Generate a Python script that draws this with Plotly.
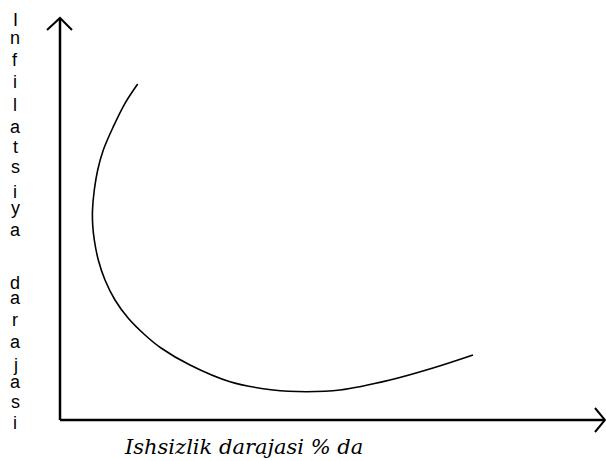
import plotly.graph_objects as go

# Curve values (arbitrary units, origin at axes crossing)
unemployment = [77.7, 65, 53.3, 43.3, 37.7, 34.3, 32.5, 32.7, 34.3, 38.3, 45, 55, 68.3,
                85, 101, 130, 170, 213, 246.7, 280, 330, 373, 413]
inflation = [336, 316.7, 293.3, 270, 250, 230, 210, 195, 180, 160, 140, 120, 101.7,
             85, 72, 55, 38.3, 30, 28.3, 30, 40, 52, 65]

y_title = "Infilatsiya darajasi"
x_title = "Ishsizlik darajasi % da"

X_MIN, X_MAX = -60, 546
Y_MIN, Y_MAX = -41, 420
X_AXIS_END = 545
Y_AXIS_END = 402

fig = go.Figure()
fig.add_trace(go.Scatter(x=unemployment, y=inflation, mode="lines",
                         line=dict(color="black", width=1.6, shape="spline", smoothing=1.0),
                         hoverinfo="skip", showlegend=False))

# axes with arrows
fig.add_shape(type="line", x0=0, y0=0, x1=X_AXIS_END, y1=0,
              line=dict(color="black", width=2.5))
fig.add_shape(type="line", x0=0, y0=0, x1=0, y1=Y_AXIS_END,
              line=dict(color="black", width=2.5))
fig.add_shape(type="path",
              path=f"M {X_AXIS_END-10},12 L {X_AXIS_END},0 L {X_AXIS_END-10},-12",
              line=dict(color="black", width=2))
fig.add_shape(type="path",
              path=f"M -13,{Y_AXIS_END-12} L 0,{Y_AXIS_END} L 12,{Y_AXIS_END-12}",
              line=dict(color="black", width=2))

# vertical stacked y title letters (baselines in px from top)
baselines = [25, 43, 65, 87, 110, 132, 152, 172, 197, 213, 235,
             288, 303, 325, 347, 370, 387, 407, 428]
letters = [c for c in y_title if c != " "]
fs = 18
for ch, b in zip(letters, baselines):
    fig.add_annotation(x=-45, y=Y_MAX - b + 0.3 * fs, text=ch, showarrow=False,
                       xanchor="center", yanchor="middle",
                       font=dict(family="Liberation Sans", size=fs, color="black"))

fig.add_annotation(x=183.5, y=-27, text=f"<i>{x_title}</i>", showarrow=False,
                   xanchor="center", yanchor="middle",
                   font=dict(family="DejaVu Serif", size=21, color="black"))

fig.update_layout(width=606, height=461, margin=dict(l=0, r=0, t=0, b=0),
                  paper_bgcolor="white", plot_bgcolor="white",
                  xaxis=dict(range=[X_MIN, X_MAX], visible=False, fixedrange=True),
                  yaxis=dict(range=[Y_MIN, Y_MAX], visible=False, fixedrange=True))

fig.write_html("out.html", config={"displayModeBar": False},
               post_script="document.body.style.margin='0';document.body.style.overflow='hidden';")
